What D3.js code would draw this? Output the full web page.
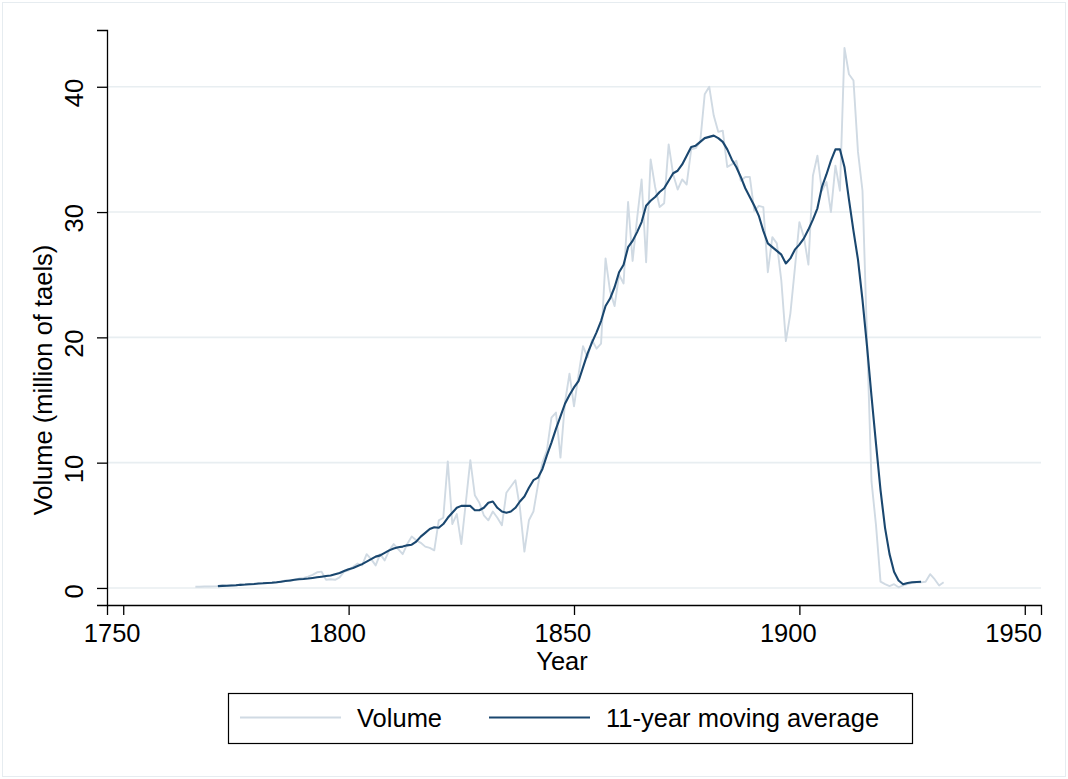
<!DOCTYPE html>
<html lang="en">
  <head>
    <meta charset="UTF-8" />
    <title>Volume</title>
    <script type="text/javascript" src="https://cdn.jsdelivr.net/npm/d3@7"></script>
  </head>
  <style>
    body { margin: 0; background: #ffffff; }
    text { font-family: "Liberation Sans", Arial, sans-serif; fill: #000; }
  </style>
  <body></body>
  <script>
    // yearly volume, million of taels, first year 1766
    var volumeStart = 1766;
    var volume = [
      0.10, 0.10, 0.12, 0.12, 0.13, 0.15, 0.20, 0.18, 0.22, 0.20,
      0.28, 0.25, 0.32, 0.30, 0.35, 0.38, 0.40, 0.45, 0.42, 0.50,
      0.60, 0.55, 0.65, 0.75, 0.80, 0.90, 1.05, 1.25, 1.30, 0.65,
      0.70, 0.65, 0.85, 1.30, 1.40, 1.70, 1.95, 1.80, 2.70, 2.30,
      1.80, 2.70, 2.20, 3.00, 3.50, 3.10, 2.70, 3.50, 4.10, 3.80,
      3.60, 3.30, 3.20, 3.00, 5.40, 5.60, 10.1, 5.10, 5.90, 3.50,
      6.80, 10.2, 7.40, 6.80, 5.80, 5.40, 6.10, 5.60, 5.00, 7.60,
      8.10, 8.60, 6.40, 2.90, 5.40, 6.10, 8.20, 10.0, 11.0, 13.6,
      14.0, 10.4, 14.8, 17.1, 14.5, 17.0, 19.3, 18.4, 19.8, 19.1,
      19.5, 26.3, 23.7, 22.5, 25.0, 24.3, 30.8, 26.1, 29.5, 32.6,
      26.0, 34.2, 32.0, 30.4, 30.7, 35.4, 33.0, 31.8, 32.6, 32.2,
      35.0, 35.1, 35.6, 39.4, 40.0, 37.7, 36.4, 36.5, 33.6, 33.8,
      34.1, 32.5, 32.8, 32.8, 30.1, 30.5, 30.4, 25.2, 28.0, 27.5,
      24.5, 19.7, 21.9, 25.5, 29.2, 28.0, 25.8, 32.9, 34.5, 31.7,
      32.4, 30.0, 33.7, 31.7, 43.1, 41.0, 40.5, 34.8, 31.7, 20.0,
      8.5, 5.0, 0.5, 0.3, 0.15, 0.3, 0.05, 0.2, 0.3, 0.4,
      0.45, 0.45, 0.5, 1.1, 0.7, 0.2, 0.45
    ];

    // 11-year moving average, first year 1771
    var maStart = 1771;
    var movingAvg = [
      0.15, 0.17, 0.18, 0.20, 0.22, 0.25, 0.27, 0.30, 0.32, 0.35,
      0.37, 0.40, 0.42, 0.45, 0.50, 0.55, 0.60, 0.65, 0.70, 0.72,
      0.75, 0.80, 0.85, 0.90, 0.95, 1.00, 1.10, 1.20, 1.35, 1.50,
      1.60, 1.75, 1.90, 2.10, 2.30, 2.50, 2.60, 2.80, 3.00, 3.15,
      3.25, 3.30, 3.40, 3.45, 3.70, 4.10, 4.40, 4.70, 4.85, 4.80,
      5.10, 5.60, 6.00, 6.40, 6.55, 6.55, 6.55, 6.20, 6.20, 6.40,
      6.80, 6.90, 6.40, 6.10, 6.00, 6.10, 6.40, 6.90, 7.30, 8.00,
      8.60, 8.80, 9.50, 10.6, 11.6, 12.7, 13.7, 14.7, 15.4, 16.0,
      16.5, 17.6, 18.7, 19.6, 20.4, 21.3, 22.5, 23.1, 24.0, 25.2,
      25.8, 27.2, 27.7, 28.4, 29.2, 30.5, 30.9, 31.2, 31.6, 31.9,
      32.5, 33.1, 33.3, 33.8, 34.5, 35.2, 35.3, 35.6, 35.9, 36.0,
      36.1, 35.9, 35.6, 35.0, 34.2, 33.6, 32.8, 31.9, 31.2, 30.5,
      29.7, 28.5, 27.5, 27.2, 26.9, 26.6, 25.9, 26.3, 27.0, 27.4,
      27.9, 28.6, 29.4, 30.3, 32.0, 33.0, 34.1, 35.0, 35.0, 33.6,
      31.0, 28.5, 26.2, 23.0, 19.3, 15.3, 11.5, 7.8, 4.8, 2.7,
      1.3, 0.6, 0.3, 0.4, 0.45, 0.48, 0.5
    ];

    var xTicks = [1750, 1800, 1850, 1900, 1950];
    var yTicks = [0, 10, 20, 30, 40];
    var legendLabels = ["Volume", "11-year moving average"];

    var W = 1068, H = 779;
    var fs = 25.5;
    var colVolume = "#d0dae3";
    var colMA = "#1a476f";
    // the original renderer places centred labels a little early, about 2.9px per character
    var shiftPerChar = 2.9;

    var svg = d3.select("body").append("svg")
      .attr("width", W).attr("height", H);

    // faint outer frame
    svg.append("rect")
      .attr("x", 2.5).attr("y", 2.5)
      .attr("width", W - 5).attr("height", H - 5)
      .attr("fill", "none").attr("stroke", "#e6ecf0").attr("stroke-width", 1);

    // axis domain is padded a bit past the ticks
    var x = d3.scaleLinear().domain([1746.4, 1953.6]).range([107, 1041]);
    var y = d3.scaleLinear().domain([-1.36, 44.53]).range([605, 30]);

    // gridlines
    svg.append("g").selectAll("line").data(yTicks).enter().append("line")
      .attr("x1", x(1746.4)).attr("x2", x(1953.6))
      .attr("y1", function (d) { return y(d); })
      .attr("y2", function (d) { return y(d); })
      .attr("stroke", "#e8eef1").attr("stroke-width", 1.6);

    var volData = volume.map(function (v, i) { return { year: volumeStart + i, v: v }; });
    var maData = movingAvg.map(function (v, i) { return { year: maStart + i, v: v }; });

    var line = d3.line()
      .x(function (d) { return x(d.year); })
      .y(function (d) { return y(d.v); });

    svg.append("path").datum(volData)
      .attr("d", line).attr("fill", "none")
      .attr("stroke", colVolume).attr("stroke-width", 1.9)
      .attr("stroke-linejoin", "round");

    svg.append("path").datum(maData)
      .attr("d", line).attr("fill", "none")
      .attr("stroke", colMA).attr("stroke-width", 2.1)
      .attr("stroke-linejoin", "round");

    // x axis
    var xAxis = svg.append("g")
      .attr("transform", "translate(0,605)")
      .call(d3.axisBottom(x).tickValues(xTicks).tickSize(10).tickFormat(d3.format("d")));
    xAxis.select(".domain").attr("stroke", "#000").attr("stroke-width", 1.3);
    xAxis.selectAll(".tick line").attr("stroke", "#000").attr("stroke-width", 1.3);
    xAxis.selectAll(".tick text")
      .attr("font-size", fs).attr("font-family", "Liberation Sans, Arial, sans-serif")
      .attr("fill", "#000").attr("dy", null).attr("y", 37)
      .attr("dx", function (d) { return -shiftPerChar * String(d).length; });

    // y axis, labels turned on their side
    var yAxis = svg.append("g")
      .attr("transform", "translate(107,0)")
      .call(d3.axisLeft(y).tickValues(yTicks).tickSize(10));
    yAxis.select(".domain").attr("stroke", "#000").attr("stroke-width", 1.3);
    yAxis.selectAll(".tick line").attr("stroke", "#000").attr("stroke-width", 1.3);
    yAxis.selectAll(".tick text")
      .attr("font-size", fs).attr("font-family", "Liberation Sans, Arial, sans-serif")
      .attr("fill", "#000")
      .attr("x", null).attr("dy", null)
      .attr("dx", function (d) { return -shiftPerChar * String(d).length; })
      .attr("text-anchor", "middle")
      .attr("transform", "translate(-24,0) rotate(-90)");

    svg.append("text")
      .attr("transform", "translate(52,380) rotate(-90)")
      .attr("text-anchor", "middle").attr("font-size", fs)
      .text("Volume (million of taels)");

    svg.append("text")
      .attr("x", 562).attr("y", 670)
      .attr("text-anchor", "middle").attr("font-size", fs)
      .text("Year");

    // legend
    var legend = svg.append("g");
    legend.append("rect")
      .attr("x", 228.5).attr("y", 693.5).attr("width", 684).attr("height", 50)
      .attr("fill", "#fff").attr("stroke", "#000").attr("stroke-width", 1.2);
    var items = [
      { label: legendLabels[0], color: colVolume, width: 1.9, x0: 240, tx: 357 },
      { label: legendLabels[1], color: colMA, width: 2.1, x0: 489, tx: 606 }
    ];
    items.forEach(function (it) {
      legend.append("line")
        .attr("x1", it.x0).attr("x2", it.x0 + 101)
        .attr("y1", 717.5).attr("y2", 717.5)
        .attr("stroke", it.color).attr("stroke-width", it.width);
      legend.append("text")
        .attr("x", it.tx).attr("y", 727)
        .attr("font-size", fs)
        .text(it.label);
    });
  </script>
</html>
